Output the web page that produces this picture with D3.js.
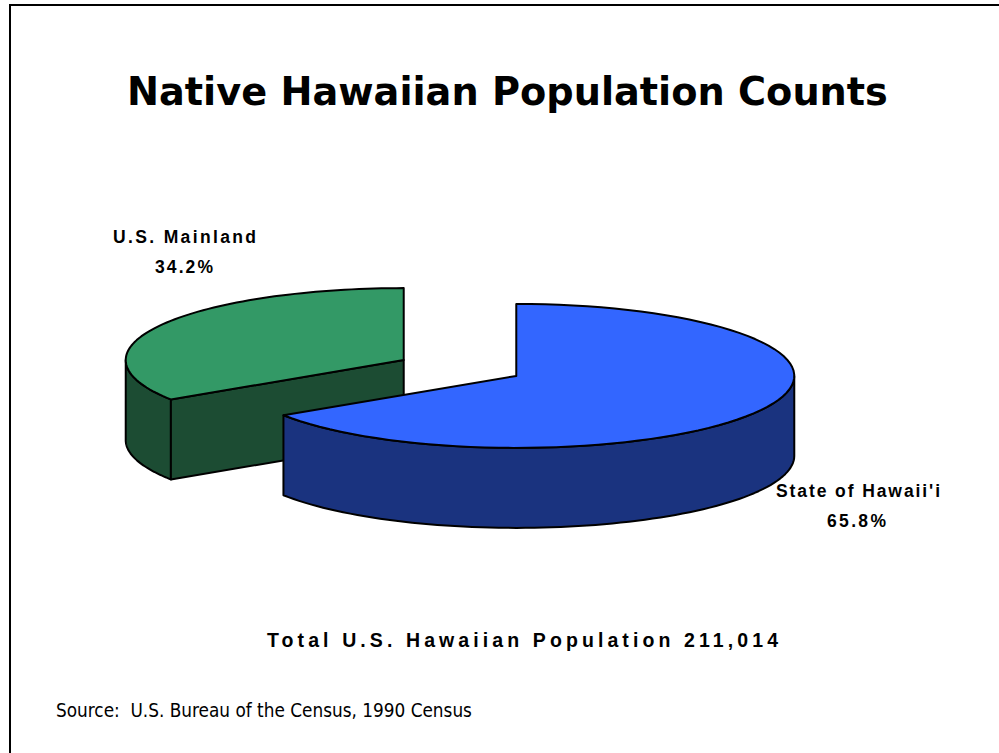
<!DOCTYPE html>
<html>
<head>
<meta charset="utf-8">
<script src="https://cdn.jsdelivr.net/npm/d3@7"></script>
<style>
  html, body { margin: 0; padding: 0; background: #fff; }
  svg { display: block; }
</style>
</head>
<body>
<svg id="chart" width="999" height="753"></svg>
<script>
// ---------------- DATA ----------------
const categories = ["State of Hawaii'i", "U.S. Mainland"];
const values = [65.8, 34.2];
const totalPopulation = 211014;
const titleText = "Native Hawaiian Population Counts";
const totalLabel = "Total U.S. Hawaiian Population";
const sourceText = "Source:  U.S. Bureau of the Census, 1990 Census";

// ---------------- STYLE / LAYOUT ----------------
const topColors = ["#3366FF", "#339966"];
const sideColors = ["#1A337F", "#1C4C33"];
const W = 999, H = 753;
const pieCx = 460, pieCy = 368;   // pie centre (un-exploded)
const rx = 278, ry = 72;          // ellipse radii of the top face
const depth = 80;                 // thickness
const explode = 64;               // explode distance (in radius units)
const labelFont = "'Liberation Sans Narrow', 'Liberation Sans', Arial, sans-serif";
const labelLayout = [
  { x: 776, y1: 497, w1: 164, x2: 827, y2: 527, w2: 59 },   // State of Hawaii'i
  { x: 113, y1: 243, w1: 143, x2: 155, y2: 273, w2: 58 }    // U.S. Mainland
];

const svg = d3.select("#chart");
svg.append("rect").attr("width", W).attr("height", H).attr("fill", "#fff");

// frame
svg.append("rect")
  .attr("x", 10).attr("y", 5).attr("width", 1000).attr("height", 800)
  .attr("fill", "none").attr("stroke", "#000").attr("stroke-width", 2);

// helpers
function fitSize(sel, targetW) {
  const fs = parseFloat(sel.attr("font-size"));
  const w = sel.node().getComputedTextLength();
  sel.attr("font-size", fs * targetW / w);
}
function fitSpacing(sel, targetW) {
  sel.attr("letter-spacing", 0);
  const w = sel.node().getComputedTextLength();
  const n = sel.text().length;
  sel.attr("letter-spacing", Math.max(0, (targetW - w) / (n - 1)));
}

// title
const title = svg.append("text")
  .attr("x", 127).attr("y", 105)
  .attr("font-family", "'DejaVu Sans', Verdana, sans-serif")
  .attr("font-weight", "bold").attr("font-size", 36)
  .attr("fill", "#000")
  .text(titleText);
fitSize(title, 761);

// ---------------- PIE ----------------
const data = categories.map((c, i) => ({ name: c, value: values[i], i }));
const arcs = d3.pie().sort(null).value(d => d.value)(data);

const k = ry / rx;
const rScale = d3.scaleLinear().domain([0, 1]).range([0, rx]);
const pt = (c, a, r = 1, dz = 0) => [c[0] + rScale(r) * Math.sin(a), c[1] - rScale(r) * k * Math.cos(a) + dz];
const line = d3.line();
const steps = a => d3.range(0, 81).map(j => a[0] + (a[1] - a[0]) * j / 80);

arcs.forEach(a => {
  const mid = (a.startAngle + a.endAngle) / 2;
  a.center = [pieCx + explode * Math.sin(mid), pieCy - explode * k * Math.cos(mid)];
});
const order = arcs.slice().sort((p, q) => p.center[1] - q.center[1]);

const g = svg.append("g")
  .attr("stroke", "#000").attr("stroke-width", 2).attr("stroke-linejoin", "round");

order.forEach(a => {
  const c = a.center, a0 = a.startAngle, a1 = a.endAngle, i = a.data.i;
  // visible outer wall (front half: PI/2 .. 3PI/2)
  const w0 = Math.max(a0, Math.PI / 2), w1 = Math.min(a1, 3 * Math.PI / 2);
  if (w1 > w0) {
    const angs = steps([w0, w1]);
    const pts = angs.map(t => pt(c, t)).concat(angs.slice().reverse().map(t => pt(c, t, 1, depth)));
    g.append("path").attr("d", line(pts) + "Z").attr("fill", sideColors[i]);
  }
  // cut faces
  if (Math.sin(a0) < -1e-6) {
    const p = pt(c, a0);
    g.append("path").attr("d", line([c, p, [p[0], p[1] + depth], [c[0], c[1] + depth]]) + "Z")
      .attr("fill", sideColors[i]);
  }
  if (Math.sin(a1) > 1e-6) {
    const p = pt(c, a1);
    g.append("path").attr("d", line([c, p, [p[0], p[1] + depth], [c[0], c[1] + depth]]) + "Z")
      .attr("fill", sideColors[i]);
  }
  // top face
  const topPts = [c].concat(steps([a0, a1]).map(t => pt(c, t)));
  g.append("path").attr("d", line(topPts) + "Z").attr("fill", topColors[i]);
});

// ---------------- LABELS ----------------
const fmtPct = d => d3.format(".1f")(d) + "%";
data.forEach((d, i) => {
  const L = labelLayout[i];
  const t1 = svg.append("text")
    .attr("x", L.x).attr("y", L.y1)
    .attr("font-family", labelFont)
    .attr("font-weight", "bold").attr("font-size", 17.5).attr("fill", "#000")
    .text(d.name);
  fitSpacing(t1, L.w1);
  const t2 = svg.append("text")
    .attr("x", L.x2).attr("y", L.y2)
    .attr("font-family", labelFont)
    .attr("font-weight", "bold").attr("font-size", 17.5).attr("fill", "#000")
    .text(fmtPct(d.value));
  fitSpacing(t2, L.w2);
});

const tot = svg.append("text")
  .attr("x", 267).attr("y", 647)
  .attr("font-family", labelFont)
  .attr("font-weight", "bold").attr("font-size", 19.5).attr("fill", "#000")
  .text(totalLabel + " " + d3.format(",")(totalPopulation));
fitSpacing(tot, 511);

const src = svg.append("text")
  .attr("x", 56).attr("y", 717)
  .attr("font-family", "'DejaVu Sans Condensed', 'DejaVu Sans', Verdana, sans-serif")
  .attr("font-size", 14).attr("fill", "#000")
  .style("white-space", "pre")
  .text(sourceText);
fitSize(src, 416);
</script>
</body>
</html>
